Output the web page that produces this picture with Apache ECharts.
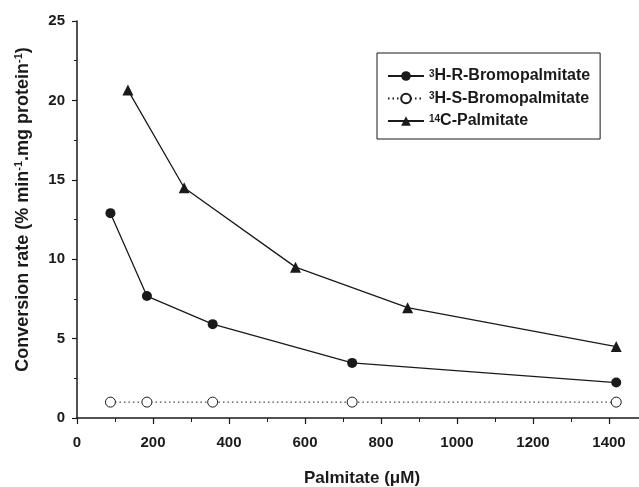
<!DOCTYPE html>
<html>
<head>
<meta charset="utf-8">
<script src="https://cdn.jsdelivr.net/npm/echarts@6/dist/echarts.min.js"></script>
<style>
    html, body { margin: 0; padding: 0; background: #fff; }
    #chart { width: 639px; height: 487px; }
</style>
</head>
<body>
<div id="chart"></div>
<script>
// palmitate concentration (uM) and conversion rates
const xBromo = [88, 184, 357, 724, 1419]
const rBromo = [12.9, 7.68, 5.91, 3.47, 2.23]
const sBromo = [1.0, 1.0, 1.0, 1.0, 1.0]
const xPalm = [134, 282, 575, 870, 1419]
const cPalm = [20.65, 14.5, 9.5, 6.95, 4.5]

const seriesNames = ['3H-R-Bromopalmitate', '3H-S-Bromopalmitate', '14C-Palmitate']
const legendLabels = ['{sup|3}H-R-Bromopalmitate', '{sup|3}H-S-Bromopalmitate', '{sup|14}C-Palmitate']

const font = 'Liberation Sans, Arial, Helvetica, sans-serif'
const ink = '#1a1a1a'

function pairs(xs, ys) {
    return xs.map((x, i) => [x, ys[i]])
}

let chart = echarts.init(document.getElementById('chart'))
chart.setOption({
    animation: false,
    grid: {
        left: 77,
        right: -8,
        top: 21,
        bottom: 69,
        containLabel: false,
        outerBoundsMode: 'none'
    },
    legend: {
        orient: 'vertical',
        left: 377,
        top: 53,
        padding: [15, 10, 10, 10],
        borderColor: ink,
        borderWidth: 1,
        itemWidth: 36,
        itemHeight: 12,
        itemGap: 6.5,
        data: seriesNames,
        formatter: name => legendLabels[seriesNames.indexOf(name)],
        textStyle: {
            fontFamily: font,
            fontWeight: 'bold',
            fontSize: 16,
            lineHeight: 14,
            color: ink,
            rich: {
                sup: {
                    fontFamily: font,
                    fontWeight: 'bold',
                    fontSize: 10,
                    verticalAlign: 'top',
                    lineHeight: 9,
                    color: ink
                }
            }
        }
    },
    xAxis: {
        type: 'value',
        min: 0,
        max: 1500,
        interval: 200,
        name: 'Palmitate (μM)',
        nameLocation: 'middle',
        nameGap: 52,
        nameTextStyle: {
            fontFamily: font,
            fontWeight: 'bold',
            fontSize: 17,
            color: ink
        },
        axisLine: { lineStyle: { color: ink, width: 1.5 } },
        axisTick: { inside: false, length: 6, lineStyle: { color: ink, width: 1.2 } },
        minorTick: { show: true, splitNumber: 2, length: 4, lineStyle: { color: ink, width: 1 } },
        splitLine: { show: false },
        axisLabel: {
            margin: 17,
            fontFamily: font,
            fontWeight: 'bold',
            fontSize: 15,
            color: ink,
            formatter: v => (v % 200 === 0 ? String(v) : '')
        }
    },
    yAxis: {
        type: 'value',
        min: 0,
        max: 25,
        interval: 5,
        name: 'Conversion rate (% min{sup|-1}.mg protein{sup|-1})',
        nameLocation: 'middle',
        nameGap: 44,
        nameTextStyle: {
            fontFamily: font,
            fontWeight: 'bold',
            fontSize: 18,
            lineHeight: 20,
            color: ink,
            padding: [0, 0, 0, 20],
            rich: {
                sup: {
                    fontFamily: font,
                    fontWeight: 'bold',
                    fontSize: 11,
                    verticalAlign: 'top',
                    lineHeight: 11,
                    color: ink
                }
            }
        },
        axisLine: { show: true, lineStyle: { color: ink, width: 1.5 } },
        axisTick: { show: true, inside: false, length: 5, lineStyle: { color: ink, width: 1.2 } },
        minorTick: { show: true, splitNumber: 2, length: 3, lineStyle: { color: ink, width: 1 } },
        splitLine: { show: false },
        axisLabel: {
            margin: 12,
            fontFamily: font,
            fontWeight: 'bold',
            fontSize: 15,
            color: ink
        }
    },
    series: [
        {
            name: seriesNames[0],
            type: 'line',
            data: pairs(xBromo, rBromo),
            symbol: 'circle',
            symbolSize: 10,
            color: ink,
            lineStyle: { color: ink, width: 1.3 },
            itemStyle: { color: ink }
        },
        {
            name: seriesNames[1],
            type: 'line',
            data: pairs(xBromo, sBromo),
            symbol: 'circle',
            symbolSize: 10,
            color: ink,
            lineStyle: { color: ink, width: 1, type: [1.5, 3] },
            itemStyle: { color: '#fff', borderColor: ink, borderWidth: 1 }
        },
        {
            name: seriesNames[2],
            type: 'line',
            data: pairs(xPalm, cPalm),
            symbol: 'triangle',
            symbolSize: 11,
            color: ink,
            lineStyle: { color: ink, width: 1.3 },
            itemStyle: { color: ink }
        }
    ]
})
</script>
</body>
</html>
